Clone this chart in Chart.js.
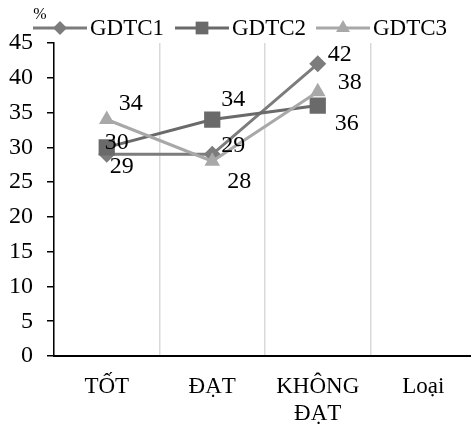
<!DOCTYPE html>
<html>
<head>
<meta charset="utf-8">
<script src="https://cdn.jsdelivr.net/npm/chart.js@4/dist/chart.umd.min.js"></script>
<style>
  html, body { margin: 0; padding: 0; background: #fff; overflow: hidden; }
  #wrap { width: 476px; height: 427px; }
</style>
</head>
<body>
<div id="wrap"><canvas id="c" width="476" height="427"></canvas></div>
<script>
// Categories and series values
const categories = ['TỐT', 'ĐẠT', ['KHÔNG', 'ĐẠT'], 'Loại'];
const seriesNames = ['GDTC1', 'GDTC2', 'GDTC3'];
const gdtc1 = [29, 29, 42, null];
const gdtc2 = [30, 34, 36, null];
const gdtc3 = [34, 28, 38, null];
const yMin = 0, yMax = 45, yStep = 5;

const SERIF = '"Liberation Serif", "Times New Roman", serif';
const colors = ['#7c7c7c', '#6a6a6a', '#a8a8a8'];
const markers = [
  { style: 'rectRot', radius: 8.5, legendRadius: 7 },
  { style: 'rect', radius: 11.5, legendRadius: 9 },
  { style: 'triangle', radius: 9, legendRadius: 8 }
];
// value label placement relative to each point (dx, dy in px)
const labelOffsets = [
  [[15, 12], [21, -9], [22, -9]],
  [[10, -5], [21, -20], [29, 18]],
  [[24, -16], [27, 20], [32, -9]]
];

const seriesData = [gdtc1, gdtc2, gdtc3];
const datasets = seriesData.map((d, i) => ({
  label: seriesNames[i],
  data: d,
  borderColor: colors[i],
  backgroundColor: colors[i],
  borderWidth: 3,
  pointStyle: markers[i].style,
  pointRadius: markers[i].radius,
  pointHoverRadius: markers[i].radius,
  pointBorderWidth: 0,
  pointBackgroundColor: colors[i],
  tension: 0,
  order: 3 - i
}));

// Value labels next to each point
const valueLabels = {
  id: 'valueLabels',
  afterDatasetsDraw(chart) {
    const ctx = chart.ctx;
    ctx.save();
    ctx.font = '24px ' + SERIF;
    ctx.fillStyle = '#000';
    ctx.textAlign = 'center';
    ctx.textBaseline = 'middle';
    chart.data.datasets.forEach((ds, i) => {
      const meta = chart.getDatasetMeta(i);
      meta.data.forEach((pt, j) => {
        const v = ds.data[j];
        if (v === null || v === undefined) return;
        const off = labelOffsets[i][j] || [0, 0];
        ctx.fillText(String(v), pt.x + off[0], pt.y + off[1]);
      });
    });
    ctx.restore();
  }
};

// Legend row across the top with line + marker samples, plus the unit label
const topLegend = {
  id: 'topLegend',
  afterDraw(chart) {
    const ctx = chart.ctx;
    ctx.save();
    ctx.font = '16px ' + SERIF;
    ctx.fillStyle = '#000';
    ctx.textAlign = 'center';
    ctx.textBaseline = 'middle';
    ctx.fillText('%', 40, 15);

    const y = 28;
    const starts = [33, 175, 316];
    const lineLen = 54;
    ctx.font = '23px ' + SERIF;
    ctx.textAlign = 'left';
    chart.data.datasets.forEach((ds, i) => {
      const x0 = starts[i];
      ctx.strokeStyle = colors[i];
      ctx.lineWidth = 3;
      ctx.beginPath();
      ctx.moveTo(x0, y);
      ctx.lineTo(x0 + lineLen, y);
      ctx.stroke();
      ctx.fillStyle = colors[i];
      Chart.helpers.drawPoint(ctx, {
        pointStyle: markers[i].style,
        radius: markers[i].legendRadius,
        rotation: 0,
        borderWidth: 0
      }, x0 + lineLen / 2, y);
      ctx.fillStyle = '#000';
      ctx.fillText(ds.label, x0 + lineLen + 3, y + 1);
    });
    ctx.restore();
  }
};

new Chart(document.getElementById('c'), {
  type: 'line',
  data: { labels: categories, datasets },
  options: {
    responsive: false,
    animation: false,
    layout: { autoPadding: false, padding: { top: 43, left: 0, right: 0, bottom: 0 } },
    plugins: {
      legend: { display: false },
      tooltip: { enabled: false }
    },
    scales: {
      x: {
        type: 'category',
        offset: true,
        grid: {
          offset: true,
          color: '#d9d9d9',
          lineWidth: 1.5,
          drawTicks: false
        },
        border: { color: '#000', width: 2 },
        ticks: {
          color: '#000',
          font: { family: SERIF, size: 23, lineHeight: 1.2 },
          padding: 17,
          maxRotation: 0,
          autoSkip: false
        },
        afterFit(scale) {
          scale.height = 71;
          scale.paddingLeft = 0;
          scale.paddingRight = 0;
        }
      },
      y: {
        min: yMin,
        max: yMax,
        grid: {
          drawOnChartArea: false,
          drawTicks: true,
          tickLength: 7,
          color: '#000',
          lineWidth: 1.5
        },
        border: { color: '#000', width: 1.5 },
        ticks: {
          stepSize: yStep,
          color: '#000',
          font: { family: SERIF, size: 24 },
          padding: 14
        },
        afterFit(scale) { scale.width = 54; }
      }
    }
  },
  plugins: [valueLabels, topLegend]
});
</script>
</body>
</html>
